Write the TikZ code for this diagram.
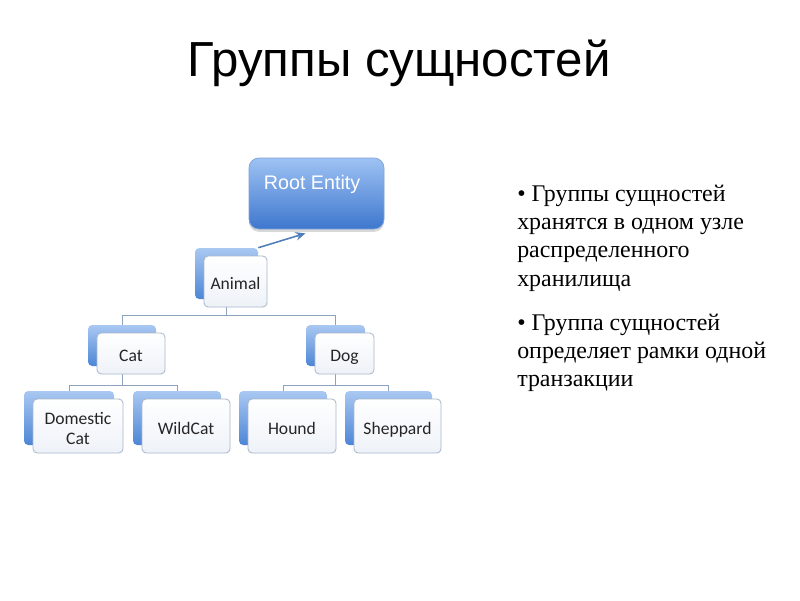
\documentclass[tikz,border=0pt]{standalone}
\usepackage{fontspec}
\setmainfont{Liberation Serif}
\newfontfamily\titlefont{Liberation Sans}
\newfontfamily\boxfont{Carlito}
\usepackage{tikz}
\usetikzlibrary{arrows.meta, positioning, calc, shadows}
\usepackage{xcolor}
\definecolor{backtop}{HTML}{A9C8F2}
\definecolor{backbot}{HTML}{4D86D6}
\definecolor{frontbot}{HTML}{EEF2F8}
\definecolor{frontline}{HTML}{A9B8CB}
\definecolor{linkcol}{HTML}{8DA2BD}
\definecolor{arrcol}{HTML}{4F7FBA}
\definecolor{roottop}{HTML}{9EC2F3}
\definecolor{rootbot}{HTML}{3E77CE}
\definecolor{rootline}{HTML}{7FA4DA}

\begin{document}
\begin{tikzpicture}[x=0.025cm, y=-0.025cm,
  back/.style 2 args={rectangle, rounded corners=3pt, top color=backtop, bottom color=backbot, draw=none, minimum width=#1*0.025cm, minimum height=#2*0.025cm, inner sep=0pt},
  front/.style 2 args={rectangle, rounded corners=3pt, draw=frontline, line width=0.6pt, top color=white, bottom color=frontbot, minimum width=#1*0.025cm, minimum height=#2*0.025cm, inner sep=0pt, align=center, text height=12pt, text depth=0pt, text=black!85, font=\boxfont\fontsize{12.5}{14}\selectfont},
  rootbox/.style={rectangle, rounded corners=7pt, top color=roottop, bottom color=rootbot, draw=rootline, line width=0.5pt, drop shadow={shadow xshift=0pt, shadow yshift=-2pt, opacity=0.3}, minimum width=135*0.025cm, minimum height=71*0.025cm},
  note/.style={align=left, inner sep=0pt, font=\fontsize{17}{20}\selectfont},
  link/.style={draw=linkcol, line width=0.6pt},
  arr/.style={-{Stealth[length=7pt, width=6pt]}, draw=arrcol, line width=1.1pt}
]
\fill[white] (0,0) rectangle (800,600);
\useasboundingbox (0,0) rectangle (800,600);

\node[anchor=base, font=\titlefont\fontsize{35}{40}\selectfont] (title) at (399,76) {Группы сущностей};

\node[rootbox] (root) at (316.5,193.5) {};
\node[anchor=base west, inner sep=0pt, text=white, font=\titlefont\fontsize{14}{16}\selectfont] (roottxt) at ([shift={(15,32)}]root.north west) {Root Entity};

\node[back={63}{51}] (animalbk) at (226.5,273.5) {};
\node[back={68}{41}] (catbk) at (122,345.5) {};
\node[back={59}{41}] (dogbk) at (335.5,345.5) {};
\node[back={90}{54}] (domcatbk) at (69,418) {};
\node[back={88}{54}] (wildcatbk) at (177,418) {};
\node[back={88}{54}] (houndbk) at (283,418) {};
\node[back={87}{54}] (sheppardbk) at (388.5,418) {};

\draw[link] (animalbk.center) -- ++(0,41.5) -| (catbk.north);
\draw[link] (animalbk.center) -- ++(0,41.5) -| (dogbk.north);
\draw[link] (catbk.center) -- ++(0,39.5) -| (domcatbk.north);
\draw[link] (catbk.center) -- ++(0,39.5) -| (wildcatbk.north);
\draw[link] (dogbk.center) -- ++(0,39.5) -| (houndbk.north);
\draw[link] (dogbk.center) -- ++(0,39.5) -| (sheppardbk.north);

\node[front={63}{51}] (animal) at ([shift={(9,8)}]animalbk) {Animal};
\node[front={68}{41}] (cat) at ([shift={(9,8)}]catbk) {Cat};
\node[front={59}{41}] (dog) at ([shift={(9,8)}]dogbk) {Dog};
\node[front={90}{54}, text height=26pt] (domcat) at ([shift={(9,8)}]domcatbk) {Domestic\\Cat};
\node[front={88}{54}] (wildcat) at ([shift={(9,8)}]wildcatbk) {WildCat};
\node[front={88}{54}] (hound) at ([shift={(9,8)}]houndbk) {Hound};
\node[front={87}{54}] (sheppard) at ([shift={(9,8)}]sheppardbk) {Sheppard};

\draw[arr] (animalbk.north east) -- ($(root.south)+(-11,4)$);

\node[note, anchor=north west] (notea) at (517,185) {• Группы сущностей\\хранятся в одном узле\\распределенного\\хранилища};
\node[note, anchor=north west] (noteb) at (517,314) {• Группа сущностей\\определяет рамки одной\\транзакции};
\end{tikzpicture}
\end{document}
